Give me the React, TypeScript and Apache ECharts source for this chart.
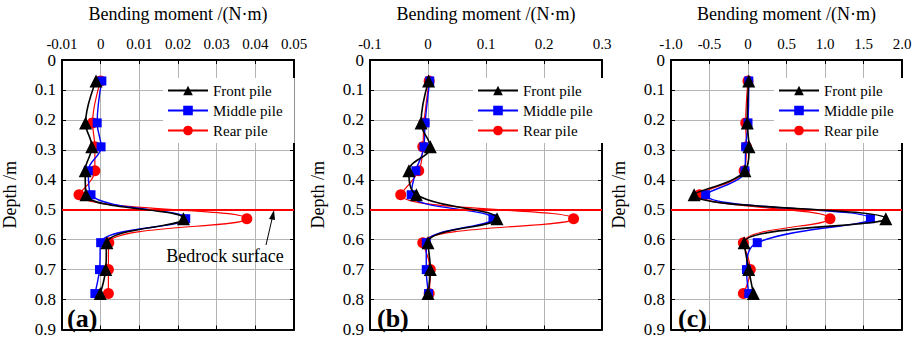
import React, { useEffect, useRef } from 'react';
import * as echarts from 'echarts';

// Depth of the measuring points (m)
const depth = [0.07, 0.21, 0.29, 0.37, 0.45, 0.53, 0.61, 0.70, 0.78];

// Panel (a) bending moment (N·m)
const frontA = [-0.0012, -0.0039, -0.0023, -0.0040, -0.0038, 0.0214, 0.0016, 0.0013, -0.0001];
const middleA = [0.0003, -0.0009, 0.0001, -0.0032, -0.0025, 0.0220, 0.0000, -0.0003, -0.0015];
const rearA = [0.0000, -0.0021, -0.0015, -0.0015, -0.0056, 0.0378, 0.0021, 0.0020, 0.0020];

// Panel (b)
const frontB = [0.001, -0.012, 0.004, -0.033, -0.020, 0.119, 0.000, 0.004, 0.000];
const middleB = [0.003, -0.005, -0.007, -0.021, -0.029, 0.112, -0.003, -0.003, 0.001];
const rearB = [0.002, -0.007, -0.009, -0.016, -0.047, 0.251, -0.009, 0.004, 0.002];

// Panel (c)
const frontC = [0.01, -0.01, 0.013, -0.04, -0.70, 1.79, -0.05, 0.01, 0.07];
const middleC = [0.01, 0.0, -0.03, -0.04, -0.55, 1.59, 0.12, -0.02, 0.01];
const rearC = [0.0, -0.03, -0.02, -0.05, -0.63, 1.065, -0.06, 0.03, -0.06];

const seriesNames = ['Front pile', 'Middle pile', 'Rear pile'];
const panelLabels = ['(a)', '(b)', '(c)'];
const xMins = [-0.01, -0.1, -1.0];
const xMaxs = [0.05, 0.3, 2.0];
const xSteps = [0.01, 0.1, 0.5];
const depthMin = 0;
const depthMax = 0.9;
const depthStep = 0.1;
const bedrockDepth = 0.5;
const xAxisTitle = 'Bending moment /(N·m)';
const yAxisTitle = 'Depth /m';
const annotationText = 'Bedrock surface';

const panelData = [
  [frontA, middleA, rearA],
  [frontB, middleB, rearB],
  [frontC, middleC, rearC],
];

const FONT = 'Liberation Serif';
const gridLefts = [60, 370, 671];
const gridWidths = [234, 232, 231];
const gridTop = 54;
const gridHeight = 279;

const styles = [
  { color: '#000000', symbol: 'triangle', size: 13, width: 1.6 },
  { color: '#0000ff', symbol: 'rect', size: 9, width: 1.4 },
  { color: '#ff0000', symbol: 'circle', size: 11, width: 1.2 },
];

function buildOption() {
  const grid: any[] = [];
  const xAxis: any[] = [];
  const yAxis: any[] = [];
  const series: any[] = [];
  const legend: any[] = [];
  const graphic: any[] = [];

  for (let p = 0; p < 3; p++) {
    grid.push({ left: gridLefts[p], width: gridWidths[p], top: gridTop, height: gridHeight, containLabel: false });
    const xFmt = (v: number) => {
      if (Math.abs(v) < 1e-12) return '0';
      if (p === 2) return v.toFixed(1);
      return String(parseFloat(v.toFixed(4)));
    };
    // primary x (top)
    xAxis.push({
      type: 'value', gridIndex: p, position: 'top', min: xMins[p], max: xMaxs[p], interval: xSteps[p],
      name: xAxisTitle, nameLocation: 'middle', nameGap: 37,
      nameTextStyle: { fontFamily: FONT, fontSize: 18, color: '#000' },
      axisLine: { show: true, onZero: false, lineStyle: { color: '#000', width: 2 } },
      axisTick: { show: true, inside: true, length: 4, lineStyle: { color: '#000', width: 1 } },
      axisLabel: { fontFamily: FONT, fontSize: 15, color: '#000', margin: 9, formatter: xFmt },
      splitLine: { show: true, lineStyle: { color: '#b4b4b4', width: 1 } },
    });
    // secondary x (bottom) for the box
    xAxis.push({
      type: 'value', gridIndex: p, position: 'bottom', min: xMins[p], max: xMaxs[p], interval: xSteps[p],
      axisLine: { show: true, onZero: false, lineStyle: { color: '#000', width: 2 } },
      axisTick: { show: true, inside: true, length: 4, lineStyle: { color: '#000', width: 1 } },
      axisLabel: { show: false },
      splitLine: { show: false },
    });
    yAxis.push({
      type: 'value', gridIndex: p, position: 'left', inverse: true, min: depthMin, max: depthMax, interval: depthStep,
      name: yAxisTitle, nameLocation: 'middle', nameGap: 43,
      nameTextStyle: { fontFamily: FONT, fontSize: 18, color: '#000' },
      axisLine: { show: true, onZero: false, lineStyle: { color: '#000', width: 2 } },
      axisTick: { show: true, inside: true, length: 4, lineStyle: { color: '#000', width: 1 } },
      axisLabel: { fontFamily: FONT, fontSize: 17, color: '#000', margin: 6 },
      splitLine: { show: true, lineStyle: { color: '#b4b4b4', width: 1 } },
    });
    yAxis.push({
      type: 'value', gridIndex: p, position: 'right', inverse: true, min: depthMin, max: depthMax, interval: depthStep,
      axisLine: { show: true, onZero: false, lineStyle: { color: '#000', width: 2 } },
      axisTick: { show: true, inside: true, length: 4, lineStyle: { color: '#000', width: 1 } },
      axisLabel: { show: false },
      splitLine: { show: false },
    });

    // draw rear first, then middle, then front on top
    for (let s = 2; s >= 0; s--) {
      const vals = panelData[p][s];
      const st = styles[s];
      const ser: any = {
        name: seriesNames[s],
        type: 'line',
        xAxisIndex: p * 2,
        yAxisIndex: p * 2,
        data: depth.map((d, i) => [vals[i], d]),
        smooth: 0.4,
        symbol: st.symbol,
        symbolSize: st.size,
        showAllSymbol: true,
        itemStyle: { color: st.color },
        lineStyle: { color: st.color, width: st.width },
        z: 3 + (2 - s),
      };
      if (s === 2) {
        ser.markLine = {
          silent: true,
          symbol: ['none', 'none'],
          label: { show: false },
          lineStyle: { color: '#ff0000', width: 2, type: 'solid' },
          data: [{ yAxis: bedrockDepth }],
        };
      }
      series.push(ser);
    }

    legend.push({
      data: seriesNames,
      orient: 'vertical',
      left: gridLefts[p] + 103,
      top: 78,
      itemWidth: 40,
      itemHeight: 12,
      itemGap: 5,
      backgroundColor: '#ffffff',
      padding: [5, 12, 5, 4],
      selectedMode: false,
      textStyle: { fontFamily: FONT, fontSize: 15, color: '#000' },
    });

    graphic.push({
      type: 'text',
      left: gridLefts[p] + 7,
      top: 305,
      style: { text: panelLabels[p], fontFamily: FONT, fontWeight: 'bold', fontSize: 26, fill: '#000' },
      z: 100,
    });
  }

  // Bedrock annotation (panel a)
  graphic.push({
    type: 'text',
    x: 225,
    y: 256,
    style: { text: annotationText, fontFamily: FONT, fontSize: 18, fill: '#000', align: 'center', verticalAlign: 'middle' },
    z: 100,
  });
  graphic.push({
    type: 'line',
    shape: { x1: 266, y1: 245, x2: 272, y2: 219 },
    style: { stroke: '#000', lineWidth: 1 },
    z: 100,
  });
  graphic.push({
    type: 'polygon',
    shape: { points: [[274, 210], [275, 220], [269, 219]] },
    style: { fill: '#000' },
    z: 100,
  });

  return {
    animation: false,
    backgroundColor: '#ffffff',
    textStyle: { fontFamily: FONT },
    grid,
    xAxis,
    yAxis,
    legend,
    series,
    graphic,
  };
}

export default function App() {
  const ref = useRef<HTMLDivElement>(null);
  useEffect(() => {
    if (!ref.current) return;
    const chart = echarts.init(ref.current, undefined, { renderer: 'svg' });
    chart.setOption(buildOption() as any);
    return () => chart.dispose();
  }, []);
  return (
    <div
      ref={ref}
      style={{ position: 'fixed', left: 0, top: 0, width: 917, height: 338, background: '#fff' }}
    />
  );
}
